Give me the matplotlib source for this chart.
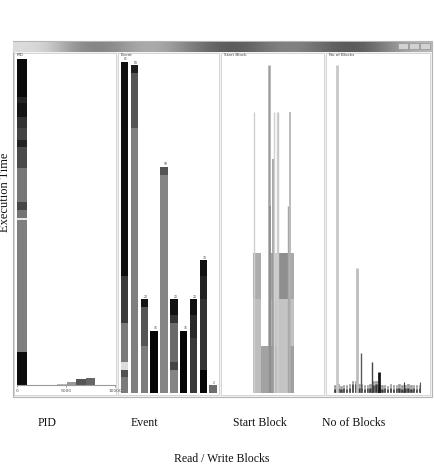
import numpy as np
import matplotlib
matplotlib.use("Agg")
import matplotlib.pyplot as plt
from matplotlib.patches import Rectangle

# ---------------- data ----------------
# PID panel: one stacked bar (segments bottom -> top) plus a small histogram
pid_segments = [8.5, 33.8, 0.5, 2.1, 2.1, 8.7, 5.4, 1.8, 3.1, 2.8, 3.6, 1.5, 9.7]
pid_colors = ['#0c0c0c', '#7f7f7f', '#e6e6e6', '#747474', '#464646', '#777777',
              '#4a4a4a', '#222222', '#444444', '#333333', '#141414', '#252525', '#0a0a0a']
pid_bar_width = 1000
pid_hist_edges = [4080, 5100, 6020, 7040, 7960]
pid_hist_values = [0.3, 0.65, 1.5, 1.8]
pid_hist_colors = ['#b8b8b8', '#999999', '#555555', '#666666']
pid_ticks = [0, 5000, 10000]
pid_tick_labels = ['0', '5000', '10000']

# Event panel: stacked bars
event_totals = [85, 84, 24, 16, 58, 24, 16, 24, 34, 2]
event_segments = [
    [4, 2, 2, 10, 12, 55],
    [68, 14, 2],
    [12, 10, 2],
    [16],
    [56, 2],
    [6, 2, 10, 2, 4],
    [16],
    [14, 6, 4],
    [6, 18, 6, 4],
    [2],
]
event_colors = [
    ['#7a7a7a', '#505050', '#dcdcdc', '#7a7a7a', '#3a3a3a', '#0e0e0e'],
    ['#808080', '#555555', '#1e1e1e'],
    ['#7c7c7c', '#555555', '#141414'],
    ['#050505'],
    ['#858585', '#555555'],
    ['#858585', '#444444', '#6a6a6a', '#333333', '#111111'],
    ['#050505'],
    ['#3a3a3a', '#2a2a2a', '#101010'],
    ['#050505', '#333333', '#222222', '#111111'],
    ['#6e6e6e'],
]

# Start Block panel: blocks (left, width, stacked segments) and thin lines
sb_left = [32.3, 39.7, 48.0, 52.5, 58.0, 67.0, 69.0]
sb_width = [7.4, 8.3, 4.5, 5.5, 9.0, 2.0, 4.3]
sb_segments = [[24, 12], [12], [12, 12, 12], [12, 12, 12], [24, 12], [12, 12, 12], [12, 12, 12]]
sb_colors = [
    ['#bdbdbd', '#acacac'],
    ['#a2a2a2'],
    ['#9b9b9b', '#b0b0b0', '#a3a3a3'],
    ['#bababa', '#c4c4c4', '#c9c9c9'],
    ['#c4c4c4', '#8e8e8e'],
    ['#a0a0a0', '#c0c0c0', '#ababab'],
    ['#a0a0a0', '#c2c2c2', '#a9a9a9'],
]
sb_line_pos = [33.3, 48.0, 49.5, 52.0, 52.7, 56.0, 57.3, 67.0, 69.0]
sb_line_height = [72, 84, 48, 60, 72, 72, 72, 48, 72]
sb_line_color = ['#cfcfcf', '#a0a0a0', '#8c8c8c', '#999999', '#d0d0d0', '#d0d0d0',
                 '#c8c8c8', '#a8a8a8', '#b0b0b0']
sb_line_width = [1.0, 1.8, 1.2, 1.2, 1.0, 1.0, 1.0, 1.0, 1.2]

# No of Blocks panel: thin lines and a row of small stacked bars
nb_line_pos = [11.0, 30.7, 34.7, 46.3, 52.7, 78.0, 94.0]
nb_line_height = [84, 32, 10.3, 8, 5.4, 2.8, 2.8]
nb_line_color = ['#c8c8c8', '#bdbdbd', '#5a5a5a', '#444444', '#151515', '#333333', '#555555']
nb_line_width = [2.0, 2.0, 1.0, 1.0, 2.0, 0.8, 0.8]
nb_small_pos = [9.5, 12.4, 15.3, 18.2, 21.1, 24.0, 27.2, 30.5, 33.3, 36.0, 38.9, 41.8,
                44.7, 47.6, 50.5, 53.4, 56.3, 59.2, 62.1, 65.0, 67.9, 70.8, 73.7, 76.6,
                79.5, 82.4, 85.3, 88.2, 91.1, 94.0]
nb_low = [1.1, 1.2, 1.0, 1.2, 1.1, 1.3, 2.2, 2.4, 1.3, 1.2, 1.1, 1.2, 1.3, 2.0, 2.3,
          1.2, 1.1, 1.2, 1.0, 1.2, 1.1, 1.3, 1.2, 1.1, 1.2, 1.3, 1.1, 1.2, 1.0, 1.3]
nb_high = [0.9, 1.0, 0.8, 0.9, 1.0, 0.9, 1.0, 0.8, 0.9, 1.0, 0.9, 0.8, 1.0, 1.0, 0.9,
           0.9, 1.0, 0.8, 0.9, 1.0, 0.9, 0.8, 1.0, 0.9, 0.8, 1.0, 0.9, 0.9, 1.0, 0.8]

panel_titles = ['PID', 'Event', 'Start Block', 'No of Blocks']
bottom_labels = ['PID', 'Event', 'Start Block', 'No of Blocks']

# title-bar shading (styling only)
tb_levels = [0.86, 0.82, 0.60, 0.50, 0.56, 0.68, 0.66, 0.52, 0.40, 0.34, 0.42,
             0.52, 0.50, 0.40, 0.33, 0.42, 0.60, 0.72]

# ---------------- figure ----------------
W, H = 435, 473
fig = plt.figure(figsize=(W / 100, H / 100), dpi=100)
fig.patch.set_facecolor('white')
serif = ['Liberation Serif', 'DejaVu Serif']


def rect(x0, y0, x1, y1):
    return [x0 / W, 1 - y1 / H, (x1 - x0) / W, (y1 - y0) / H]


bg = fig.add_axes([0, 0, 1, 1])
bg.set_xlim(0, W)
bg.set_ylim(H, 0)
bg.axis('off')

# window frame
bg.add_patch(Rectangle((13, 41), 419, 356, facecolor='#f3f3f3', edgecolor='#b5b5b5', lw=0.8))
grad = np.array([tb_levels, tb_levels])
bg.imshow(grad, cmap='gray', vmin=0, vmax=1, extent=(13, 432, 52, 42), aspect='auto',
          interpolation='bicubic', zorder=2)
for bx0, bx1 in [(398, 408), (409, 419), (420, 430)]:
    bg.add_patch(Rectangle((bx0, 43), bx1 - bx0, 6, facecolor='#d2d2d2', edgecolor='#8a8a8a',
                           lw=0.4, zorder=3))

panel_x = [(14, 116), (118, 219), (221, 324), (326, 430)]
for (px0, px1), t in zip(panel_x, panel_titles):
    bg.add_patch(Rectangle((px0, 53), px1 - px0, 342, facecolor='white', edgecolor='#d0d0d0',
                           lw=0.6, zorder=1))
    bg.text(px0 + 3, 55.2, t, fontsize=3.0, color='#444444', va='center', ha='left', zorder=4)

# y label and bottom labels
bg.text(5, 192, 'Execution Time', rotation=90, fontsize=9, family=serif, ha='center',
        va='center', color='#111111')
for cx, lab in zip([47, 144, 260, 354], bottom_labels):
    bg.text(cx, 423, lab, fontsize=8.5, family=serif, ha='center', va='center', color='#111111')
bg.text(222, 459, 'Read / Write Blocks', fontsize=8.5, family=serif, ha='center', va='center',
        color='#111111')

YMAX = 85.4

# ---- PID panel ----
ax1 = fig.add_axes(rect(17, 59, 115, 385))
ax1.set_xlim(0, 10000)
ax1.set_ylim(0, 83.6)
ax1.patch.set_alpha(0)
bottom = 0
for h, c in zip(pid_segments, pid_colors):
    ax1.bar(0, h, width=pid_bar_width, bottom=bottom, color=c, align='edge', lw=0)
    bottom += h
ax1.bar(pid_hist_edges[:-1], pid_hist_values, width=np.diff(pid_hist_edges), align='edge',
        color=pid_hist_colors, lw=0)
for s in ['top', 'right', 'left']:
    ax1.spines[s].set_visible(False)
ax1.spines['bottom'].set_color('#9a9a9a')
ax1.spines['bottom'].set_linewidth(0.8)
ax1.set_yticks([])
ax1.set_xticks(pid_ticks)
ax1.set_xticklabels(pid_tick_labels)
ax1.tick_params(axis='x', labelsize=3.2, length=1.5, width=0.4, pad=1.5, colors='#555555')

# ---- Event panel ----
ax2 = fig.add_axes(rect(118, 60, 219, 393))
ax2.set_xlim(-0.68, 9.59)
ax2.set_ylim(0, YMAX)
ax2.axis('off')
for i, (segs, cols) in enumerate(zip(event_segments, event_colors)):
    b = 0
    for h, c in zip(segs, cols):
        ax2.bar(i, h, bottom=b, width=0.77, color=c, lw=0)
        b += h
    ax2.text(i - 0.05, event_totals[i] + 0.1, str(event_totals[i]), fontsize=2.2,
             color='#444444', ha='left', va='bottom')

# ---- Start Block panel ----
ax3 = fig.add_axes(rect(221, 60, 324, 393))
ax3.set_xlim(0, 103)
ax3.set_ylim(0, YMAX)
ax3.axis('off')
for l, w, segs, cols in zip(sb_left, sb_width, sb_segments, sb_colors):
    b = 0
    for h, c in zip(segs, cols):
        ax3.bar(l, h, bottom=b, width=w, align='edge', color=c, lw=0)
        b += h
ax3.vlines(sb_line_pos, 0, sb_line_height, colors=sb_line_color, linewidths=sb_line_width)

# ---- No of Blocks panel ----
ax4 = fig.add_axes(rect(326, 60, 430, 393))
ax4.set_xlim(0, 104)
ax4.set_ylim(0, YMAX)
ax4.axis('off')
ax4.bar(nb_small_pos, nb_low, width=2.5, color='#3a3a3a', edgecolor='white', lw=0.2)
ax4.bar(nb_small_pos, nb_high, bottom=nb_low, width=2.5, color='#9a9a9a', edgecolor='white', lw=0.2)
ax4.vlines(nb_line_pos, 0, nb_line_height, colors=nb_line_color, linewidths=nb_line_width)

fig.savefig('out.png', dpi=100, facecolor='white')
